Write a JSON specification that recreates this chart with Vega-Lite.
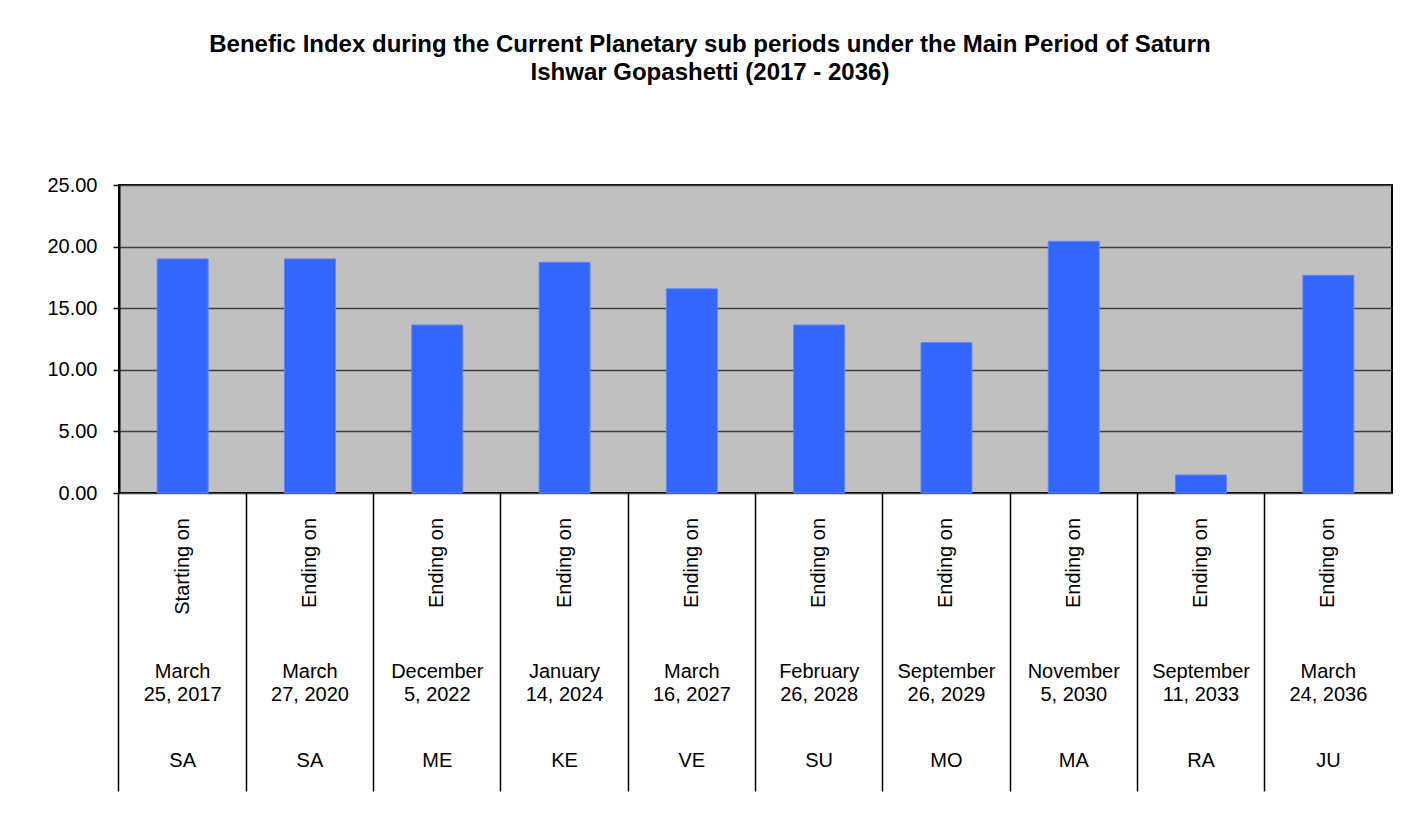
{
  "$schema": "https://vega.github.io/schema/vega-lite/v6.json",
  "width": 1273,
  "height": 308,
  "autosize": "none",
  "padding": {"left": 119, "top": 185, "right": 29, "bottom": 336},
  "background": "white",
  "title": {
    "text": ["Benefic Index during the Current Planetary sub periods under the Main Period of Saturn", "Ishwar Gopashetti (2017 - 2036)"],
    "font": "Liberation Sans",
    "fontSize": 24,
    "fontWeight": "bold",
    "color": "black",
    "anchor": "middle",
    "frame": "group",
    "dx": -45.5,
    "offset": 90,
    "lineHeight": 28
  },
  "data": {
    "values": [
      {"key": "1", "phase": "Starting on", "date": "March\n25, 2017", "planet": "SA", "value": 19.00},
      {"key": "2", "phase": "Ending on", "date": "March\n27, 2020", "planet": "SA", "value": 19.00},
      {"key": "3", "phase": "Ending on", "date": "December\n5, 2022", "planet": "ME", "value": 13.64},
      {"key": "4", "phase": "Ending on", "date": "January\n14, 2024", "planet": "KE", "value": 18.72},
      {"key": "5", "phase": "Ending on", "date": "March\n16, 2027", "planet": "VE", "value": 16.57},
      {"key": "6", "phase": "Ending on", "date": "February\n26, 2028", "planet": "SU", "value": 13.64},
      {"key": "7", "phase": "Ending on", "date": "September\n26, 2029", "planet": "MO", "value": 12.21},
      {"key": "8", "phase": "Ending on", "date": "November\n5, 2030", "planet": "MA", "value": 20.43},
      {"key": "9", "phase": "Ending on", "date": "September\n11, 2033", "planet": "RA", "value": 1.46},
      {"key": "10", "phase": "Ending on", "date": "March\n24, 2036", "planet": "JU", "value": 17.67}
    ]
  },
  "encoding": {
    "x": {
      "field": "key",
      "type": "nominal",
      "sort": null,
      "scale": {"type": "band", "paddingInner": 0.6, "paddingOuter": 0.3},
      "axis": {
        "title": null,
        "labels": false,
        "domain": false,
        "ticks": true,
        "tickSize": 298,
        "tickColor": "black",
        "tickWidth": 1.5,
        "bandPosition": -0.75,
        "grid": false
      }
    }
  },
  "layer": [
    {
      "mark": {"type": "bar", "color": "#3366FF", "stroke": "#5f84f2", "strokeWidth": 1},
      "encoding": {
        "y": {
          "field": "value",
          "type": "quantitative",
          "scale": {"domain": [0, 25], "nice": false},
          "axis": {
            "title": null,
            "values": [0, 5, 10, 15, 20, 25],
            "format": ".2f",
            "labelFont": "Liberation Sans",
            "labelFontSize": 20,
            "labelColor": "black",
            "labelPadding": 16,
            "tickSize": 6,
            "tickColor": "black",
            "tickWidth": 1.5,
            "domainColor": "black",
            "domainWidth": 2,
            "grid": true,
            "gridColor": "#404040",
            "gridWidth": 1.5
          }
        }
      }
    },
    {
      "mark": {"type": "text", "angle": 270, "align": "right", "baseline": "middle", "dx": -25, "font": "Liberation Sans", "fontSize": 20, "color": "black"},
      "encoding": {
        "y": {"datum": 0, "type": "quantitative"},
        "text": {"field": "phase"}
      }
    },
    {
      "mark": {"type": "text", "align": "center", "baseline": "middle", "dy": 179, "lineBreak": "\n", "lineHeight": 23, "font": "Liberation Sans", "fontSize": 20, "color": "black"},
      "encoding": {
        "y": {"datum": 0, "type": "quantitative"},
        "text": {"field": "date"}
      }
    },
    {
      "mark": {"type": "text", "align": "center", "baseline": "middle", "dy": 268, "font": "Liberation Sans", "fontSize": 20, "color": "black"},
      "encoding": {
        "y": {"datum": 0, "type": "quantitative"},
        "text": {"field": "planet"}
      }
    }
  ],
  "config": {
    "view": {"fill": "#C0C0C0", "stroke": "black", "strokeWidth": 2}
  }
}
